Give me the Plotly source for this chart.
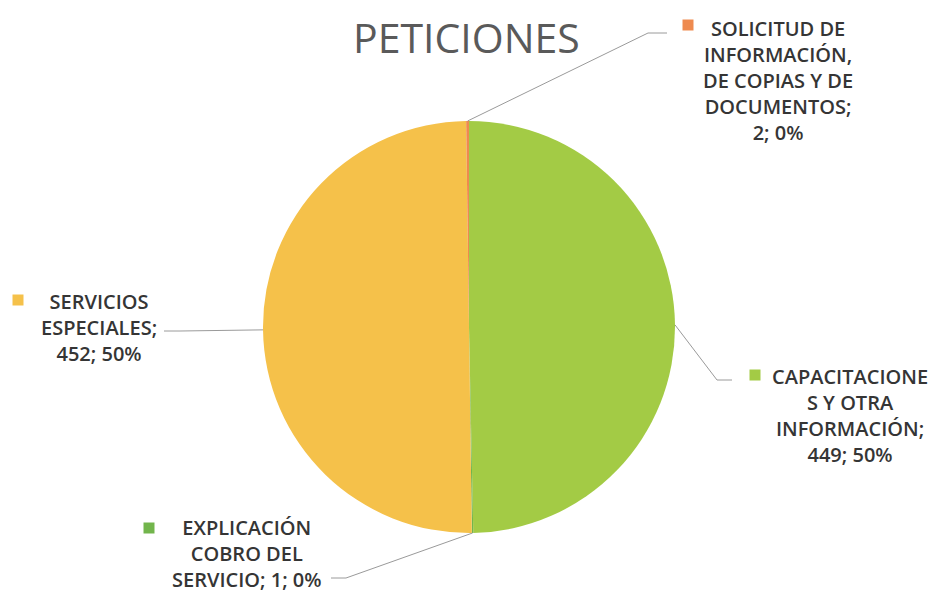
import math
import plotly.graph_objects as go

# ---- data ----
categories = [
    "CAPACITACIONES Y OTRA INFORMACIÓN",
    "EXPLICACIÓN COBRO DEL SERVICIO",
    "SERVICIOS ESPECIALES",
    "SOLICITUD DE INFORMACIÓN, DE COPIAS Y DE DOCUMENTOS",
]
values = [449, 1, 452, 2]
label_lines = [
    ["CAPACITACIONE", "S Y OTRA", "INFORMACIÓN;", "{v}; {p}"],
    ["EXPLICACIÓN", "COBRO DEL", "SERVICIO; {v}; {p}"],
    ["SERVICIOS", "ESPECIALES;", "{v}; {p}"],
    ["SOLICITUD DE", "INFORMACIÓN,", "DE COPIAS Y DE", "DOCUMENTOS;", "{v}; {p}"],
]
colors = ["#A3CB45", "#72B54C", "#F5C14A", "#EE8A4F"]
title = "PETICIONES"

# ---- layout constants (pixels, page coordinates) ----
W, H = 937, 595
OFF = 8  # page body margin
CX, CY, R = 469, 327, 206
FONT = "Open Sans"
FSIZE = 20
LINE = FSIZE * 1.3
label_layout = [
    dict(tx=850, ty=375, sq=(755, 375), elbow=(717, 380), end=(732, 380)),
    dict(tx=247, ty=526, sq=(149, 528), elbow=(346, 578), end=(331, 578)),
    dict(tx=99, ty=300, sq=(18, 300), elbow=(180, 331), end=(164, 331)),
    dict(tx=778, ty=27, sq=(688, 25), elbow=(648, 33), end=(667, 33)),
]
SQ = 5.5


def px(x):
    return (x - OFF) / W


def py(y):
    return 1 - (y - OFF) / H


total = sum(values)
fig = go.Figure()
fig.add_trace(go.Pie(
    labels=categories, values=values, sort=False, direction="clockwise",
    rotation=0, textinfo="none", hoverinfo="label+value+percent",
    marker=dict(colors=colors, line=dict(width=0)),
    domain=dict(x=[px(CX - R), px(CX + R)], y=[py(CY + R), py(CY - R)]),
    showlegend=False,
))

shapes = []
annotations = []
cum = 0
for cat, v, lines, col, lay in zip(categories, values, label_lines, colors, label_layout):
    mid = (cum + v / 2) / total * 2 * math.pi
    cum += v
    sx = CX + R * math.sin(mid)
    sy = CY - R * math.cos(mid)
    ex, ey = lay["elbow"]
    fx, fy = lay["end"]
    shapes.append(dict(type="path", xref="paper", yref="paper",
                       path=f"M {px(sx)} {py(sy)} L {px(ex)} {py(ey)} L {px(fx)} {py(fy)}",
                       line=dict(color="#9a9a9a", width=1)))
    pct = f"{round(v / total * 100)}%"
    text = "<br>".join(l.format(v=v, p=pct) for l in lines)
    annotations.append(dict(text=text, x=px(lay["tx"]), y=py(lay["ty"] - LINE / 2),
                            xref="paper", yref="paper", xanchor="center", yanchor="top",
                            showarrow=False, align="center", borderpad=0,
                            font=dict(family=FONT, size=FSIZE, color="#353535", weight=600)))
    qx, qy = lay["sq"]
    shapes.append(dict(type="rect", xref="paper", yref="paper",
                       x0=px(qx - SQ), x1=px(qx + SQ),
                       y0=py(qy + SQ), y1=py(qy - SQ),
                       fillcolor=col, line=dict(width=0)))

annotations.append(dict(text=title, x=px(466), y=1.0, xref="paper", yref="paper",
                        xanchor="center", yanchor="top", showarrow=False, borderpad=0,
                        font=dict(family=FONT, size=41, color="#5a5a5a", weight=500)))

fig.update_layout(
    width=W, height=H, margin=dict(l=0, r=0, t=0, b=0),
    paper_bgcolor="white", plot_bgcolor="white",
    shapes=shapes, annotations=annotations,
)
fig.write_html("out.html")
